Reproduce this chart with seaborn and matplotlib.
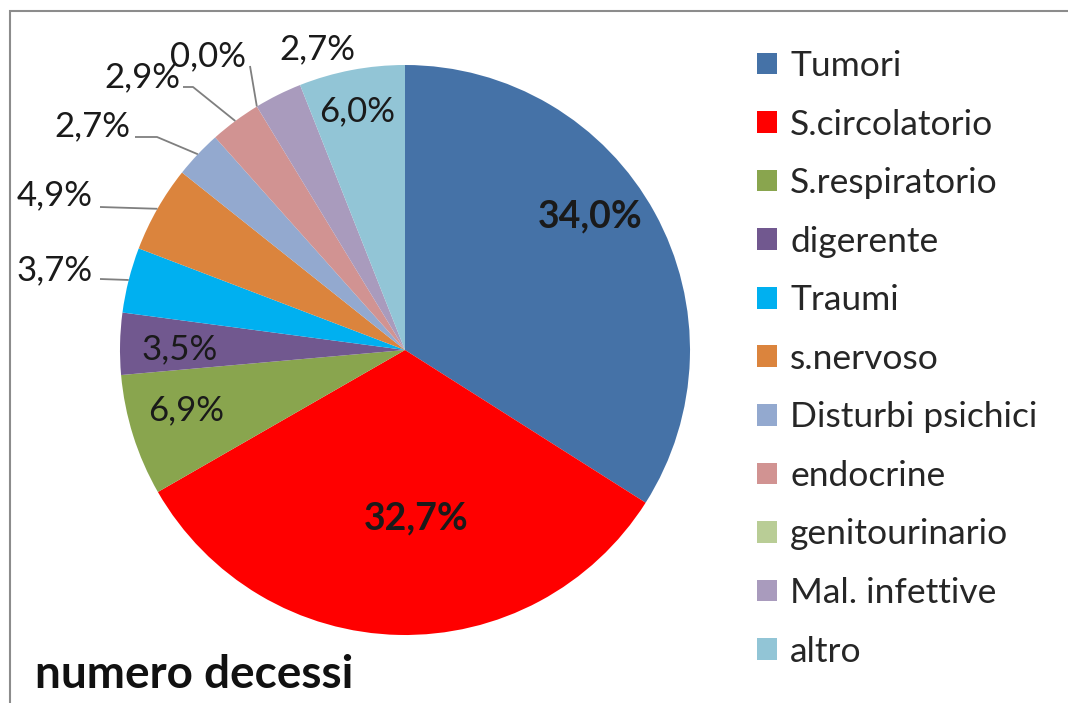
import matplotlib
matplotlib.use("Agg")
import matplotlib.pyplot as plt
import seaborn as sns
import numpy as np
from matplotlib.patches import Rectangle

# ---- data ----
categories = ["Tumori", "S.circolatorio", "S.respiratorio", "digerente", "Traumi",
              "s.nervoso", "Disturbi psichici", "endocrine", "genitourinario",
              "Mal. infettive", "altro"]
values = [34.0, 32.7, 6.9, 3.5, 3.7, 4.9, 2.7, 2.9, 0.0, 2.7, 6.0]
value_labels = ["34,0%", "32,7%", "6,9%", "3,5%", "3,7%", "4,9%", "2,7%", "2,9%",
                "0,0%", "2,7%", "6,0%"]
title_text = "numero decessi"

# ---- styles ----
colors = ["#4572A7", "#FF0000", "#89A54E", "#71588F", "#00B0F0", "#DB843D",
          "#93A9CF", "#D19392", "#B9CD96", "#A99BBD", "#92C5D6"]
bold_labels = {0, 1}

W, H = 1068, 703
CX, CY, R = 405, 350, 285  # pie centre and radius (px)

# label placement (px): text centre, and optional leader polyline start/elbow
label_pos_px = [(590, 216), (416, 518), (186, 410), (180, 349), (55, 270),
                (55, 195), (92, 126), (142, 77), (208, 56), (317, 49), (357, 111)]
leader_px = {4: [(100, 279)], 5: [(100, 207)], 6: [(135, 137), (157, 137)],
             7: [(183, 87), (193, 87)], 8: [(250, 66)]}

sns.set_theme(style="white")
FONT = ["Lato", "DejaVu Sans"]
plt.rcParams["font.family"] = FONT

fig = plt.figure(figsize=(W / 100, H / 100), dpi=100)
ax = fig.add_axes([0, 0, 1, 1])

palette = sns.color_palette(colors)
wedges, _ = ax.pie(values, colors=palette, startangle=90, counterclock=False,
                   radius=1, center=(0, 0), wedgeprops=dict(linewidth=0))
ax.set_xlim((0 - CX) / R, (W - CX) / R)
ax.set_ylim((CY - H) / R, CY / R)
ax.set_aspect("equal")
ax.axis("off")


def px2d(p):
    return ((p[0] - CX) / R, (CY - p[1]) / R)


for i, (w, txt) in enumerate(zip(wedges, value_labels)):
    mid = np.deg2rad((w.theta1 + w.theta2) / 2)
    x, y = px2d(label_pos_px[i])
    is_bold = i in bold_labels
    ax.text(x, y, txt, ha="center", va="center", fontsize=27 if is_bold else 25,
            fontweight="bold" if is_bold else "normal", color="#1a1a1a")
    if i in leader_px:
        pts = [px2d(p) for p in leader_px[i]] + [(np.cos(mid), np.sin(mid))]
        xs, ys = zip(*pts)
        ax.plot(xs, ys, color="#7f7f7f", lw=1.3, solid_capstyle="butt")

fig.legend(wedges, categories, loc="upper left", bbox_to_anchor=(757 / W, 1 - 50 / H),
           frameon=False, fontsize=25.5, handlelength=0.565, handleheight=0.565,
           handletextpad=0.37, labelspacing=0.75, borderaxespad=0, borderpad=0)

fig.text(35 / W, 1 - 688 / H, title_text, fontsize=33, fontweight="bold",
         ha="left", va="baseline", color="#111111")

fig.add_artist(Rectangle((10 / W, -0.1), 2, 1 - 11 / H + 0.1, transform=fig.transFigure,
                         fill=False, edgecolor="#8c8c8c", lw=1.5))

fig.savefig("out.png", dpi=100, facecolor="white")
